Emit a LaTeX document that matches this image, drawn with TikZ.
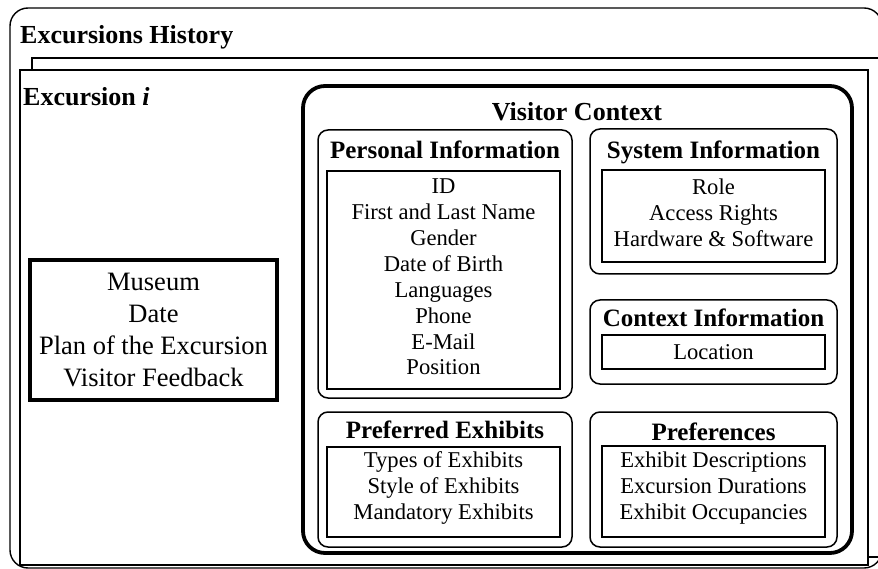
\documentclass[tikz,border=0pt]{standalone}
\usepackage{fontspec}
\setmainfont{Liberation Serif}
\usetikzlibrary{fit}
\begin{document}
\begin{tikzpicture}[x=1pt,y=-1pt,
  frame/.style={draw=black, line width=1.4pt, fill=white},
  heavy/.style={draw=black, line width=3.8pt, inner sep=0pt},
  group/.style={draw=black, line width=1.5pt, rounded corners=10pt, inner sep=0pt},
  inner/.style={draw=black, line width=1.5pt, inner sep=0pt},
  bigtitle/.style={font=\bfseries\fontsize{26}{30}\selectfont, inner sep=0pt, text height=17pt, text depth=0pt},
  title/.style={font=\bfseries\fontsize{25}{29}\selectfont, inner sep=0pt, text height=16.5pt, text depth=0pt},
  body/.style={font=\fontsize{22.6}{25.9}\selectfont, align=center, inner sep=0pt},
  museumtext/.style={font=\fontsize{26.5}{32}\selectfont, align=center, inner sep=0pt}]
\useasboundingbox (0,0) rectangle (878,569);
% outer frame
\draw[line width=1.4pt, rounded corners=18pt] (10,8) rectangle (882,568);
\node[bigtitle, anchor=west] (hist) at (20,35) {Excursions History};
% stacked excursion frames
\node[frame, fit={(32,58) (890,557)}, inner sep=0pt] (back) {};
\node[frame, fit={(20,70) (868,565)}, inner sep=0pt] (front) {};
\node[bigtitle, anchor=west] (exc) at (23,97) {Excursion \textit{i}};
% museum box
\node[heavy, fit={(30,260) (277,400)}] (museum) {};
\node[museumtext] (museumt) at (153.5,330) {Museum\\Date\\Plan of the Excursion\\Visitor Feedback};
% visitor context
\node[heavy, rounded corners=22pt, fit={(303,86) (852,553)}] (vc) {};
\node[bigtitle] (vct) at (577,112) {Visitor Context};
% personal information
\node[group, fit={(318,130) (572,398)}] (pi) {};
\node[inner, fit={(327,171) (560,389)}] (pii) {};
\node[title] (pit) at (445,150) {Personal Information};
\node[body] (pib) at (443.5,277) {ID\\First and Last Name\\Gender\\Date of Birth\\Languages\\Phone\\E-Mail\\Position};
% preferred exhibits
\node[group, fit={(318,412) (572,547)}] (pe) {};
\node[inner, fit={(327,447) (560,537)}] (pei) {};
\node[title] (pet) at (445,430) {Preferred Exhibits};
\node[body] (peb) at (443.5,488) {Types of Exhibits\\Style of Exhibits\\Mandatory Exhibits};
% system information
\node[group, fit={(590,129) (837,274)}] (si) {};
\node[inner, fit={(602,170) (825,262)}] (sii) {};
\node[title] (sit) at (713.5,150) {System Information};
\node[body] (sib) at (713.5,213) {Role\\Access Rights\\Hardware \& Software};
% context information
\node[group, fit={(590,300) (837,384)}] (ci) {};
\node[inner, fit={(602,335) (825,369)}] (cii) {};
\node[title] (cit) at (713.5,318) {Context Information};
\node[body] (cib) at (713.5,352) {Location};
% preferences
\node[group, fit={(590,412) (837,547)}] (pr) {};
\node[inner, fit={(602,446) (825,537)}] (pri) {};
\node[title] (prt) at (713.5,432) {Preferences};
\node[body] (prb) at (713.5,488) {Exhibit Descriptions\\Excursion Durations\\Exhibit Occupancies};
\end{tikzpicture}
\end{document}
